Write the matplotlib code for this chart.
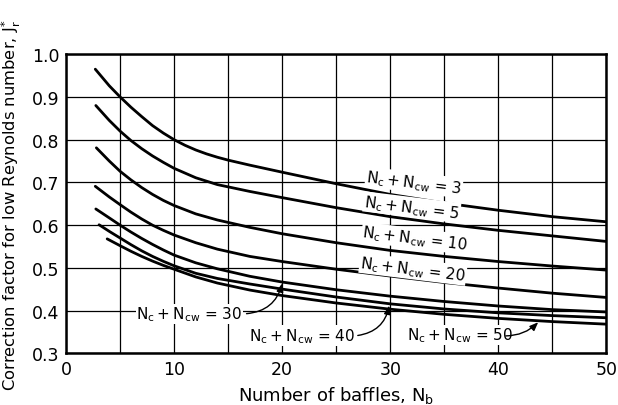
import matplotlib
matplotlib.use("Agg")
import matplotlib.pyplot as plt

plt.rcParams['font.family'] = ['DejaVu Sans']
plt.rcParams['mathtext.default'] = 'regular'

# valores (N_b, J_r*)
x3 = [2.7, 4, 5, 6, 7, 8, 9, 10, 11, 12, 13, 14, 15, 17, 20, 25, 30, 35, 40, 45, 50]
y3 = [0.965, 0.926, 0.90, 0.876, 0.854, 0.833, 0.8155, 0.80, 0.787, 0.776, 0.7668, 0.759, 0.7522,
      0.7405, 0.724, 0.697, 0.672, 0.652, 0.635, 0.62, 0.608]

x5 = [2.75, 4, 5, 6, 7, 8, 9, 10, 12, 14, 17, 20, 25, 30, 35, 40, 45, 50]
y5 = [0.88, 0.845, 0.82, 0.798, 0.779, 0.762, 0.747, 0.733, 0.711, 0.695, 0.679, 0.6645,
      0.641, 0.62, 0.603, 0.588, 0.575, 0.562]

x10 = [2.8, 4, 5, 6, 7, 8, 9, 10, 12, 14, 17, 20, 25, 30, 35, 40, 45, 50]
y10 = [0.781, 0.75, 0.726, 0.706, 0.688, 0.672, 0.658, 0.646, 0.6265, 0.6122, 0.595, 0.58,
       0.559, 0.541, 0.527, 0.515, 0.5045, 0.495]

x20 = [2.7, 4, 5, 6, 7, 8, 9, 10, 12, 14, 17, 20, 25, 30, 35, 40, 45, 50]
y20 = [0.691, 0.666, 0.648, 0.6305, 0.6145, 0.600, 0.588, 0.577, 0.559, 0.544, 0.527, 0.515,
       0.497, 0.481, 0.466, 0.453, 0.441, 0.431]

x30 = [2.75, 4, 5, 6, 7, 8, 9, 10, 12, 14, 17, 20, 25, 30, 35, 40, 45, 50]
y30 = [0.638, 0.617, 0.600, 0.584, 0.569, 0.555, 0.542, 0.530, 0.512, 0.498, 0.4805, 0.467,
       0.449, 0.434, 0.4215, 0.411, 0.4025, 0.397]

x40 = [3.05, 4, 5, 6, 7, 8, 9, 10, 12, 14, 17, 20, 25, 30, 35, 40, 45, 50]
y40 = [0.601, 0.5855, 0.570, 0.5545, 0.540, 0.527, 0.5155, 0.505, 0.4875, 0.4754, 0.4625, 0.4505,
       0.432, 0.416, 0.404, 0.395, 0.3885, 0.3835]

x50 = [3.8, 5, 6, 7, 8, 9, 10, 12, 14, 17, 20, 25, 30, 35, 40, 45, 50]
y50 = [0.568, 0.552, 0.539, 0.527, 0.516, 0.506, 0.497, 0.479, 0.4647, 0.4483, 0.4354,
       0.418, 0.4035, 0.3915, 0.382, 0.3745, 0.3685]

curvas = [(x3, y3), (x5, y5), (x10, y10), (x20, y20), (x30, y30), (x40, y40), (x50, y50)]

x_ticks = [0, 10, 20, 30, 40, 50]
y_ticks = [0.3, 0.4, 0.5, 0.6, 0.7, 0.8, 0.9, 1.0]

# rotulos das curvas
rot = r'$N_c + N_{cw}$'
labels_inclinados = [("3", 32.2, 0.700), ("5", 32.0, 0.642), ("10", 32.3, 0.569), ("20", 32.1, 0.497)]

fig = plt.figure(figsize=(6.18, 4.06), dpi=100)
ax = fig.add_axes([0.107, 0.127, 0.874, 0.737])

for xs, ys in curvas:
    ax.plot(xs, ys, color='black', lw=2.0, solid_capstyle='round', solid_joinstyle='round', zorder=3)

ax.set_xlim(0, 50)
ax.set_ylim(0.3, 1.0)
ax.set_xticks(x_ticks)
ax.set_xticks(range(5, 50, 10), minor=True)
ax.set_yticks(y_ticks)
ax.set_yticklabels([f"{v:.1f}" for v in y_ticks])
ax.tick_params(which='both', length=0, labelsize=12.5, pad=5)
ax.grid(True, which='both', color='black', lw=0.9, zorder=1)
ax.set_axisbelow(True)
for s in ax.spines.values():
    s.set_linewidth(1.8)

for num, xl, yl in labels_inclinados:
    ax.text(xl, yl, rot + ' = ' + num, fontsize=11, ha='center', va='center',
            rotation=-7, zorder=4,
            bbox=dict(fc='white', ec='none', pad=0.5))

# rotulos com seta
seta = '-|>,head_length=0.5,head_width=0.2'
ax.text(11.4, 0.393, rot + ' = 30', fontsize=11, ha='center', va='center', zorder=4,
        bbox=dict(fc='white', ec='none', pad=0.5))
ax.annotate('', xy=(20, 0.464), xytext=(16.7, 0.393), zorder=4,
            arrowprops=dict(arrowstyle=seta, color='black', lw=1.0,
                            connectionstyle='arc3,rad=0.35', shrinkA=0, shrinkB=0))

ax.text(21.8, 0.342, rot + ' = 40', fontsize=11, ha='center', va='center', zorder=4,
        bbox=dict(fc='white', ec='none', pad=0.5))
ax.annotate('', xy=(29.9, 0.412), xytext=(27.0, 0.342), zorder=4,
            arrowprops=dict(arrowstyle=seta, color='black', lw=1.0,
                            connectionstyle='arc3,rad=0.35', shrinkA=0, shrinkB=0))

ax.text(36.5, 0.344, rot + ' = 50', fontsize=11, ha='center', va='center', zorder=4,
        bbox=dict(fc='white', ec='none', pad=0.5))
ax.annotate('', xy=(43.7, 0.373), xytext=(40.7, 0.341), zorder=4,
            arrowprops=dict(arrowstyle=seta, color='black', lw=1.0,
                            connectionstyle='arc3,rad=0.2', shrinkA=0, shrinkB=0))

ax.set_xlabel(r'Number of baffles, $N_b$', fontsize=13, labelpad=4)
ax.set_ylabel(r'Correction factor for low Reynolds number, $J_r^{*}$', fontsize=11.8, labelpad=6)

fig.savefig('out.png', dpi=100)
